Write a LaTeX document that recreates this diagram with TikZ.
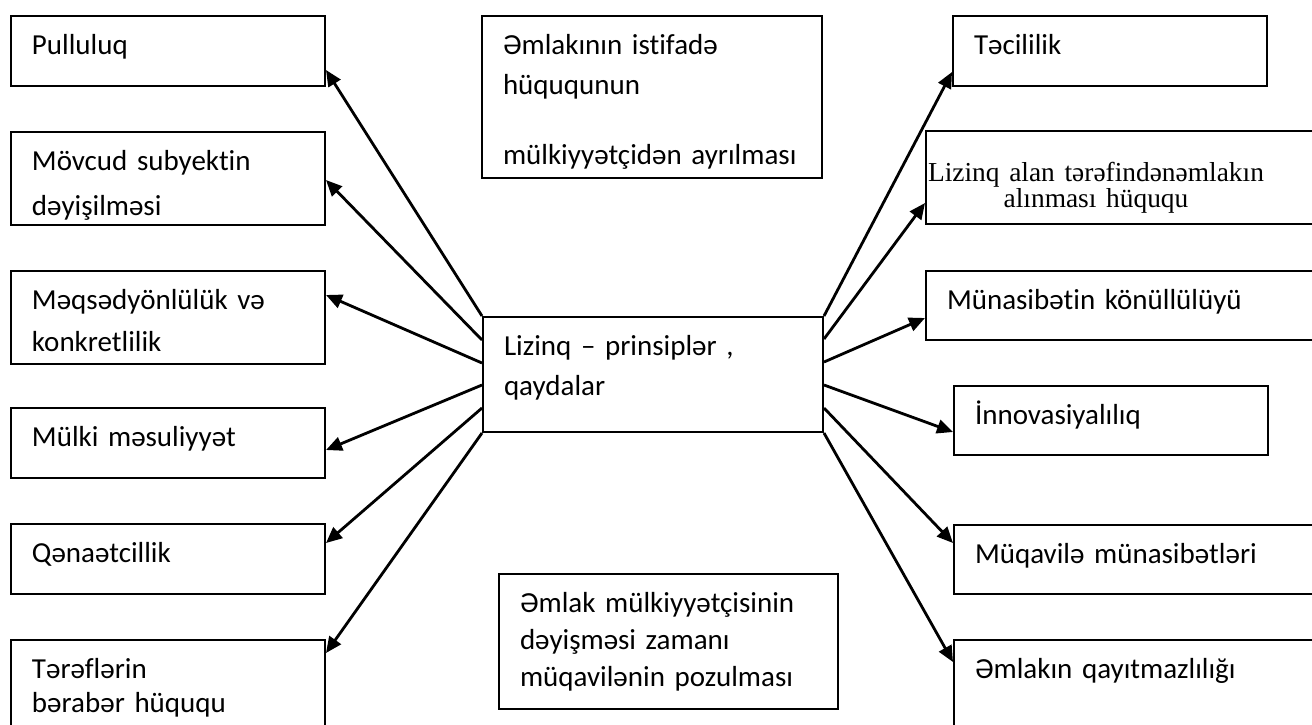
\documentclass[tikz,border=0pt]{standalone}
\usepackage{fontspec}
\setmainfont{Carlito}[Ligatures=NoCommon]
\newfontfamily\timesfont{Liberation Serif}
\usetikzlibrary{arrows.meta}
\begin{document}
\begin{tikzpicture}[x=0.5pt, y=-0.5pt,
    box/.style={draw, line width=1pt, anchor=north west, align=left,
      inner xsep=10.5pt, inner ysep=4pt, text height=15pt,
      font=\fontsize{14.5}{20}\selectfont},
    arr/.style={line width=1.4pt, -{Triangle[length=8pt,width=7pt]}}]
    \useasboundingbox (0,0) rectangle (1312,724);
    \clip (0,0) rectangle (1312,724);
    % left column
    \node [box, text width=136pt, text depth=12pt] (L0) at (10,15) {Pulluluq};
    \node [box, text width=136pt, text depth=23.5pt] (L1) at (10,131) {Mövcud subyektin\\[2.5pt] dəyişilməsi};
    \node [box, text width=136pt, text depth=23.5pt] (L2) at (10,270) {Məqsədyönlülük və\\[1pt] konkretlilik};
    \node [box, text width=136pt, text depth=12pt] (L3) at (10,407) {Mülki məsuliyyət};
    \node [box, text width=136pt, text depth=12pt] (L4) at (10,523) {Qənaətcillik};
    \node [box, text width=136pt, text depth=40pt] (L5) at (10,639) {Tərəflərin\\[-3pt] bərabər hüququ};
    % middle column
    \node [box, text width=149pt, text depth=58pt] (T0) at (481,15) {Əmlakının istifadə\\ hüququnun\\[15pt] mülkiyyətçidən ayrılması};
    \node [box, text width=149pt, text depth=34.5pt] (C0) at (482,316) {Lizinq – prinsiplər ,\\ qaydalar};
    \node [box, text width=148.5pt, text depth=44.5pt] (B0) at (498,573) {Əmlak mülkiyyətçisinin\\[-1.5pt] dəyişməsi zamanı\\[-1.5pt] müqavilənin pozulması};
    % right column
    \node [box, text width=136pt, text depth=12pt] (R0) at (952,15) {Təcililik};
    \node [box, inner xsep=0pt, text width=210pt, text height=21pt, text depth=17.5pt] (R1) at (925,130)
      {\parbox[t]{170pt}{\centering\timesfont\fontsize{13.7}{13}\selectfont Lizinq alan tərəfindənəmlakın\\ alınması hüququ}};
    \node [box, text width=186.5pt, text depth=11.5pt] (R2) at (925,270) {Münasibətin könüllülüyü};
    \node [box, text width=136pt, text depth=11.5pt] (R3) at (953,385) {İnnovasiyalılıq};
    \node [box, text width=172.5pt, text depth=11.5pt] (R4) at (953,524) {Müqavilə münasibətləri};
    \node [box, text width=172.5pt, text depth=40pt] (R5) at (953,639) {Əmlakın qayıtmazlılığı};
    % connectors
    \path (C0.north west) edge [arr] (L0.east |- 0,70);
    \path (C0.west |- 0,340) edge [arr] (L1.east |- 0,180);
    \path (C0.west |- 0,363) edge [arr] (L2.east |- 0,295);
    \path (C0.west |- 0,385) edge [arr] (L3.east |- 0,450);
    \path (C0.west |- 0,408) edge [arr] (L4.east |- 0,543);
    \path (C0.south west) edge [arr] (L5.east |- 0,653);
    \path (C0.north east) edge [arr] (R0.west |- 0,72);
    \path (C0.east |- 0,339) edge [arr] (R1.west |- 0,203);
    \path (C0.east |- 0,362) edge [arr] (R2.west |- 0,318);
    \path (C0.east |- 0,385) edge [arr] (R3.west |- 0,432);
    \path (C0.east |- 0,408) edge [arr] (R4.west |- 0,543);
    \path (C0.south east) edge [arr] (R5.west |- 0,662);
  \end{tikzpicture}
\end{document}
